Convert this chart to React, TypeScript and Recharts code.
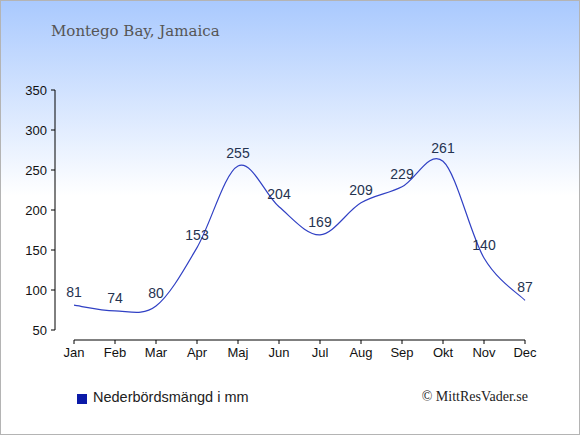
import React from 'react'
import { LineChart, Line, XAxis, YAxis, LabelList, ReferenceLine } from 'recharts'

const months = ['Jan', 'Feb', 'Mar', 'Apr', 'Maj', 'Jun', 'Jul', 'Aug', 'Sep', 'Okt', 'Nov', 'Dec']
const precipitation = [81, 74, 80, 153, 255, 204, 169, 209, 229, 261, 140, 87]
const yTicks = [50, 100, 150, 200, 250, 300, 350]

const data = months.map((month, i) => ({ month, mm: precipitation[i] }))

const sans = '"Liberation Sans", Arial, sans-serif'

// catmull-rom style curve, the line dips a little past the points like the original
const cardinal = (context: any) => {
  let pts: number[][] = []
  return {
    areaStart() {},
    areaEnd() {},
    lineStart() {
      pts = []
    },
    point(x: number, y: number) {
      pts.push([x, y])
    },
    lineEnd() {
      if (!pts.length) return
      context.moveTo(pts[0][0], pts[0][1])
      for (let i = 0; i < pts.length - 1; i++) {
        const p0 = pts[i - 1] || pts[i]
        const p1 = pts[i]
        const p2 = pts[i + 1]
        const p3 = pts[i + 2] || p2
        context.bezierCurveTo(
          p1[0] + (p2[0] - p0[0]) / 6,
          p1[1] + (p2[1] - p0[1]) / 6,
          p2[0] - (p3[0] - p1[0]) / 6,
          p2[1] - (p3[1] - p1[1]) / 6,
          p2[0],
          p2[1]
        )
      }
    },
  }
}

function MonthTick({ x, y, payload }: any) {
  return (
    <g>
      <line x1={x} x2={x} y1={y + 10} y2={y + 14} stroke="#000" />
      <text x={x} y={y + 27} textAnchor="middle" fontSize={13} fill="#111" fontFamily={sans}>
        {payload.value}
      </text>
    </g>
  )
}

export default function App() {
  return (
    <div
      style={{
        position: 'absolute',
        left: 0,
        top: 0,
        width: 580,
        height: 435,
        background: 'linear-gradient(#a9c9fe 0%, #ffffff 45%)',
        overflow: 'hidden',
      }}
    >
      <div
        style={{
          position: 'absolute',
          left: 51,
          top: 22,
          fontFamily: '"DejaVu Serif", serif',
          fontSize: 15,
          color: '#555',
          whiteSpace: 'nowrap',
        }}
      >
        Montego Bay, Jamaica
      </div>

      <div style={{ position: 'absolute', left: 0, top: 0 }}>
        <LineChart
          width={580}
          height={435}
          data={data}
          margin={{ top: 90, right: 55, bottom: 75, left: 0 }}
          style={{ fontFamily: sans }}
        >
          <XAxis
            dataKey="month"
            height={30}
            padding={{ left: 19, right: 0 }}
            axisLine={false}
            tickLine={false}
            tickSize={0}
            tickMargin={0}
            interval={0}
            tick={<MonthTick />}
          />
          <YAxis
            width={55}
            domain={[50, 350]}
            ticks={yTicks}
            interval={0}
            tickSize={4}
            tickMargin={4}
            axisLine={{ stroke: '#000' }}
            tickLine={{ stroke: '#000' }}
            tick={{ fontSize: 13, fill: '#111' }}
          />
          <ReferenceLine
            segment={[
              { x: 'Jan', y: 37.5 },
              { x: 'Dec', y: 37.5 },
            ]}
            stroke="#000"
            ifOverflow="visible"
          />
          <Line
            dataKey="mm"
            type={cardinal as any}
            stroke="#3040c4"
            strokeWidth={1.2}
            dot={false}
            isAnimationActive={false}
          >
            <LabelList dataKey="mm" position="top" offset={8} fill="#253350" fontSize={14} />
          </Line>
        </LineChart>
      </div>

      <div style={{ position: 'absolute', left: 77, top: 394, width: 10, height: 10, background: '#0b1aa8' }} />
      <div
        style={{
          position: 'absolute',
          left: 93,
          top: 389,
          fontFamily: sans,
          fontSize: 14.5,
          color: '#222',
          whiteSpace: 'nowrap',
        }}
      >
        Nederbördsmängd i mm
      </div>
      <div
        style={{
          position: 'absolute',
          right: 52,
          top: 389,
          fontFamily: '"Liberation Serif", serif',
          fontSize: 14,
          color: '#222',
          whiteSpace: 'nowrap',
        }}
      >
        © MittResVader.se
      </div>

      <div
        style={{
          position: 'absolute',
          left: 0,
          top: 0,
          width: 580,
          height: 435,
          boxSizing: 'border-box',
          border: '1px solid #b4b4b4',
          pointerEvents: 'none',
        }}
      />
    </div>
  )
}
